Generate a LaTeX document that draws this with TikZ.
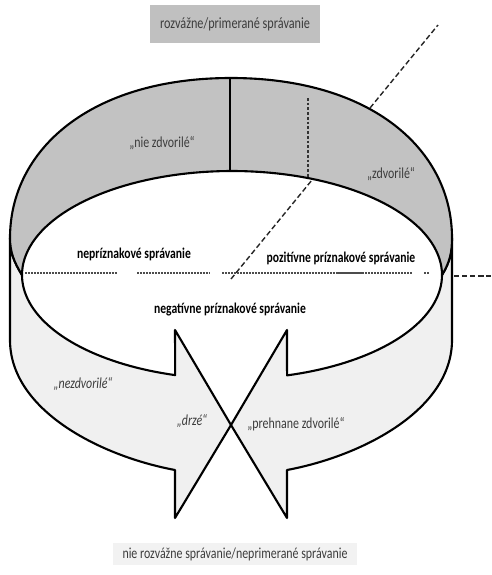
\documentclass[tikz,border=0pt]{standalone}
\usepackage{fontspec}
\setmainfont{Carlito}[FakeStretch=0.78]
\usepackage{graphicx}
\usepackage{tikz}
\definecolor{bandgray}{HTML}{C2C2C2}
\definecolor{palegray}{HTML}{F0F0F0}
\definecolor{boxgray}{HTML}{C0C0C0}
\definecolor{boxpale}{HTML}{F2F2F2}
\definecolor{txtgray}{HTML}{3C3C3C}
\tikzset{
  rimline/.style={draw=black,line width=1.2pt,line join=round},
  lbl/.style={font=\fontsize{8.7}{10}\selectfont,text=txtgray,inner sep=1pt},
  ilbl/.style={lbl,font=\fontsize{8.7}{10}\selectfont\itshape},
  blbl/.style={font=\fontsize{8.5}{10}\selectfont\bfseries,inner sep=1pt},
  boxlbl/.style={font=\fontsize{9}{10}\selectfont,inner sep=0pt,text=txtgray},
  dashln/.style={dash pattern=on 3pt off 1.6pt,line width=0.8pt,black!85}
}
\begin{document}
\begin{tikzpicture}[x=0.02cm,y=-0.02cm]
\def\cx{232}\def\cy{275}\def\rx{210}\def\ry{104}
\useasboundingbox (0,0) rectangle (491,575);
\filldraw[rimline,fill=palegray] (10,238) -- (10,340) .. controls (10,410) and (100,456) .. (175,470)
  -- (175,518) -- (231,425) -- (287,518) -- (287,470) .. controls (362,456) and (452,410) .. (452,340)
  -- (452,238) .. controls (452,252) and (450,262) .. (442,275)
  -- plot[domain=0:74.8,samples=40] ({\cx+\rx*cos(\x)},{\cy+\ry*sin(\x)})
  -- (287,330) -- (231,425) -- (175,330)
  -- plot[domain=105.7:180,samples=40] ({\cx+\rx*cos(\x)},{\cy+\ry*sin(\x)})
  .. controls (14,262) and (10,252) .. (10,238) -- cycle;
\filldraw[rimline,fill=bandgray] (22,275) .. controls (14,262) and (10,252) .. (10,238)
  .. controls (10,150) and (90,78) .. (231,78) .. controls (372,78) and (452,150) .. (452,238)
  .. controls (452,252) and (450,262) .. (442,275)
  -- plot[domain=360:180,samples=80] ({\cx+\rx*cos(\x)},{\cy+\ry*sin(\x)}) -- cycle;
\draw[dashln] (231,279) -- (312,180) (370,108) -- (438,25);
\draw[dashln] (454,276) -- (491,276);
\draw[line width=0.8pt] (230,78) -- (230,171);
\draw[dash pattern=on 1.5pt off 1.2pt,line width=0.6pt,black!80] (308,98) -- (308,177);
\draw[dash pattern=on 1.2pt off 0.5pt,line width=0.6pt,black!70] (25,273) -- (117,273) (137,273) -- (210,273)
  (222,273) -- (413,273) (424,273) -- (429,273);
\node[fill=boxgray,minimum width=3.4cm,minimum height=0.76cm,boxlbl] (top) at (235,24) {\resizebox{3cm}{!}{rozvážne/primerané správanie}};
\node[fill=boxpale,minimum width=4.88cm,minimum height=0.44cm,boxlbl] (bottom) at (235,554) {\resizebox{4.5cm}{!}{nie rozvážne správanie/neprimerané správanie}};
\node[lbl] (niezdv) at (162,143) {„nie zdvorilé“};
\node[lbl] (zdv) at (391,174) {„zdvorilé“};
\node[blbl] (nepriz) at (134,254) {nepríznakové správanie};
\node[blbl] (pozpriz) at (341,258) {pozitívne príznakové správanie};
\node[blbl] (negpriz) at (230,310) {negatívne príznakové správanie};
\node[ilbl] (nezdv) at (83,384) {„nezdvorilé“};
\node[ilbl] (drze) at (192,421) {„drzé“};
\node[lbl] (prehn) at (296,424) {„prehnane zdvorilé“};
\end{tikzpicture}
\end{document}
